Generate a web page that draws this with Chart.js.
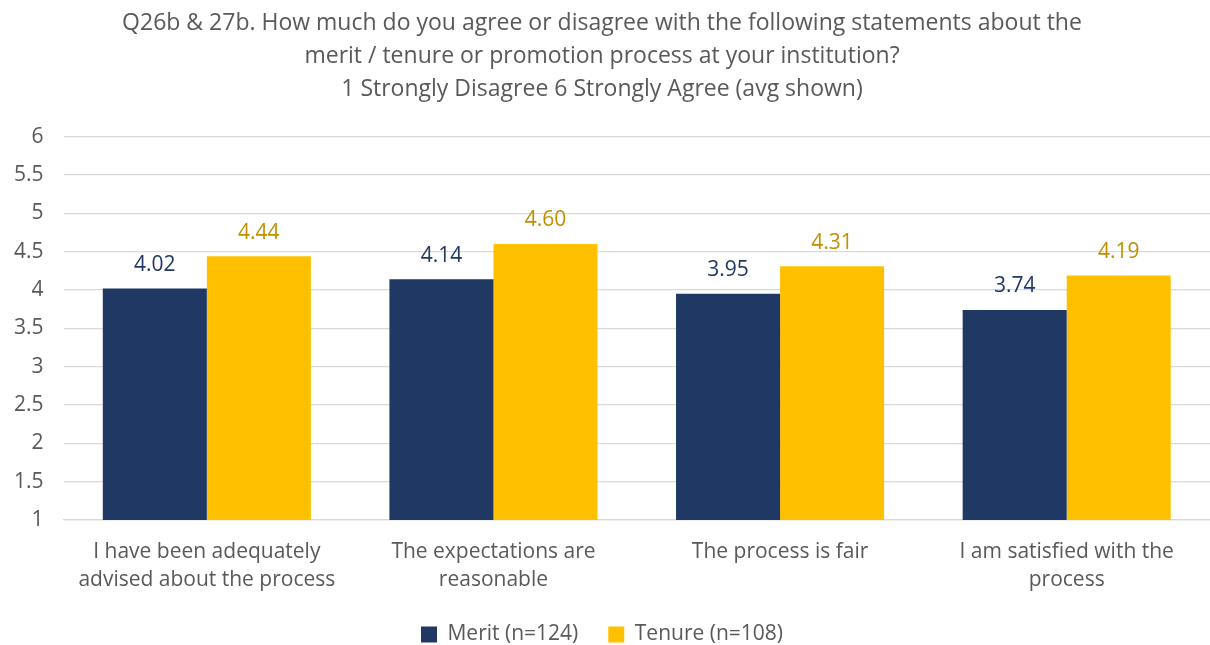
<!DOCTYPE html>
<html>
<head>
<meta charset="utf-8">
<script src="https://cdn.jsdelivr.net/npm/chart.js@4"></script>
<style>
html,body{margin:0;padding:0;background:#fff;}
#wrap{width:1210px;height:645px;position:relative;}
</style>
</head>
<body>
<div id="wrap"><canvas id="c" width="1210" height="645"></canvas></div>
<script>
const categories = [
  ["I have been adequately", "advised about the process"],
  ["The expectations are", "reasonable"],
  ["The process is fair"],
  ["I am satisfied with the", "process"]
];
const meritValues = [4.02, 4.14, 3.95, 3.74];
const tenureValues = [4.44, 4.60, 4.31, 4.19];
const seriesNames = ["Merit (n=124)", "Tenure (n=108)"];
const titleLines = [
  "Q26b & 27b. How much do you agree or disagree with the following statements about the",
  "merit / tenure or promotion process at your institution?",
  "1 Strongly Disagree 6 Strongly Agree (avg shown)"
];

const FONT = "'Open Sans', 'Noto Sans', sans-serif";
const labelColors = ["#203864", "#BF9000"];

const valueLabels = {
  id: 'valueLabels',
  afterDatasetsDraw(chart) {
    const ctx = chart.ctx;
    ctx.save();
    ctx.font = "21px " + FONT;
    ctx.textAlign = 'center';
    ctx.textBaseline = 'bottom';
    chart.data.datasets.forEach((ds, i) => {
      const meta = chart.getDatasetMeta(i);
      ctx.fillStyle = labelColors[i];
      meta.data.forEach((bar, j) => {
        ctx.fillText(ds.data[j].toFixed(2), bar.x, bar.y - 13);
      });
    });
    ctx.restore();
  }
};

new Chart(document.getElementById('c'), {
  type: 'bar',
  data: {
    labels: categories,
    datasets: [
      { label: seriesNames[0], data: meritValues, backgroundColor: '#203864' },
      { label: seriesNames[1], data: tenureValues, backgroundColor: '#FFC000' }
    ]
  },
  options: {
    responsive: false,
    animation: false,
    layout: { padding: { left: -6, right: 0, top: 0, bottom: -10 } },
    datasets: { bar: { categoryPercentage: 0.726, barPercentage: 1.0 } },
    plugins: {
      title: {
        display: true,
        text: titleLines,
        color: '#595959',
        font: { family: FONT, size: 23, weight: 'normal', lineHeight: 1.43 },
        padding: { top: 7, bottom: 31 }
      },
      legend: {
        position: 'bottom',
        labels: {
          color: '#595959',
          font: { family: FONT, size: 21 },
          boxWidth: 16, boxHeight: 16,
          padding: 30
        }
      },
      tooltip: { enabled: false }
    },
    scales: {
      y: {
        min: 1, max: 6,
        ticks: {
          stepSize: 0.5, color: '#595959', font: { family: FONT, size: 21 }, padding: 20,
          callback: v => String(v)
        },
        grid: { color: '#D9D9D9', lineWidth: 1.3, drawTicks: false },
        border: { display: false }
      },
      x: {
        ticks: { color: '#595959', font: { family: FONT, size: 21, lineHeight: 1.33 }, padding: 10, maxRotation: 0 },
        grid: { display: false },
        border: { color: '#D9D9D9', width: 1.3 },
        afterFit(scale) { scale.height = 74; }
      }
    }
  },
  plugins: [valueLabels]
});
</script>
</body>
</html>
